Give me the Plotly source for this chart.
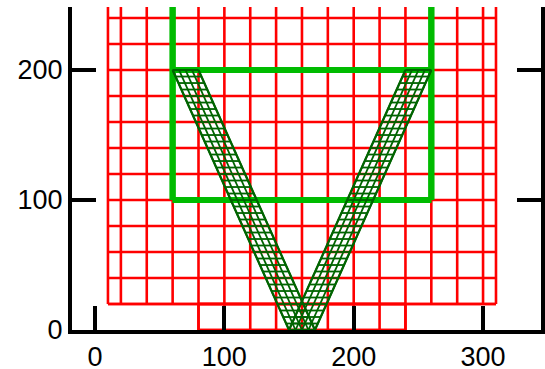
import plotly.graph_objects as go

# ---- data ----
# red grid, upper block (a = x position, b = y position)
red_up_a = [10, 310]
red_up_b = [20, 260]
red_up_x = [[10, 310], [10, 310]]
red_up_y = [[20, 20], [260, 260]]

# red grid, lower block
red_lo_a = [80, 240]
red_lo_b = [0, 20]
red_lo_x = [[80, 240], [80, 240]]
red_lo_y = [[0, 0], [20, 20]]

# thick green frame
green_a = [60, 260]
green_b = [100, 300]
green_x = [[60, 260], [60, 260]]
green_y = [[100, 100], [300, 300]]

# dark green bands (corners)
band_a = [0, 20]
band_b = [0, 200]
band_left_x = [[150, 170], [60, 80]]
band_right_x = [[150, 170], [240, 260]]
band_y = [[0, 0], [200, 200]]

x_ticks = [0, 100, 200, 300]
y_ticks = [0, 100, 200]


def cax(color, width, edge_width, dtick, tick0=0):
    return dict(
        tickmode="linear", tick0=tick0, dtick=dtick,
        gridcolor=color, gridwidth=width,
        startlinecolor=color, startlinewidth=edge_width,
        endlinecolor=color, endlinewidth=edge_width,
        linecolor=color, linewidth=edge_width,
        showticklabels="none", minorgridcount=0,
    )


fig = go.Figure()

fig.add_trace(go.Carpet(
    a=red_up_a, b=red_up_b, x=red_up_x, y=red_up_y,
    aaxis=cax("#ff0000", 2.6, 2.6, 20), baxis=cax("#ff0000", 2.6, 2.6, 20),
))
fig.add_trace(go.Carpet(
    a=red_lo_a, b=red_lo_b, x=red_lo_x, y=red_lo_y,
    aaxis=cax("#ff0000", 2.6, 2.6, 20), baxis=cax("#ff0000", 2.6, 2.6, 20),
))
fig.add_trace(go.Carpet(
    a=green_a, b=green_b, x=green_x, y=green_y,
    aaxis=cax("#00bb00", 6, 6, 200, tick0=60), baxis=cax("#00bb00", 6, 6, 100),
))
for bx in (band_left_x, band_right_x):
    fig.add_trace(go.Carpet(
        a=band_a, b=band_b, x=bx, y=band_y,
        aaxis=cax("#006400", 1.8, 2.2, 5), baxis=cax("#006400", 1.8, 2.2, 5),
    ))

axis_common = dict(
    showline=True, linecolor="black", linewidth=4,
    ticks="inside", ticklen=24, tickwidth=3.5, tickcolor="black",
    showgrid=False, zeroline=False, automargin=False,
    tickfont=dict(family="Arial, Liberation Sans, sans-serif", size=27, color="black"),
)

fig.update_layout(
    width=545, height=369,
    margin=dict(l=72, r=3.5, t=7, b=39.3, pad=0, autoexpand=False),
    paper_bgcolor="white", plot_bgcolor="white",
    showlegend=False,
    xaxis=dict(range=[-17.8, 344.8], tickmode="array", tickvals=x_ticks,
               **axis_common),
    yaxis=dict(range=[0, 248.5], tickmode="array", tickvals=y_ticks,
               mirror="ticks", **axis_common),
)

fig.write_html("out.html")
